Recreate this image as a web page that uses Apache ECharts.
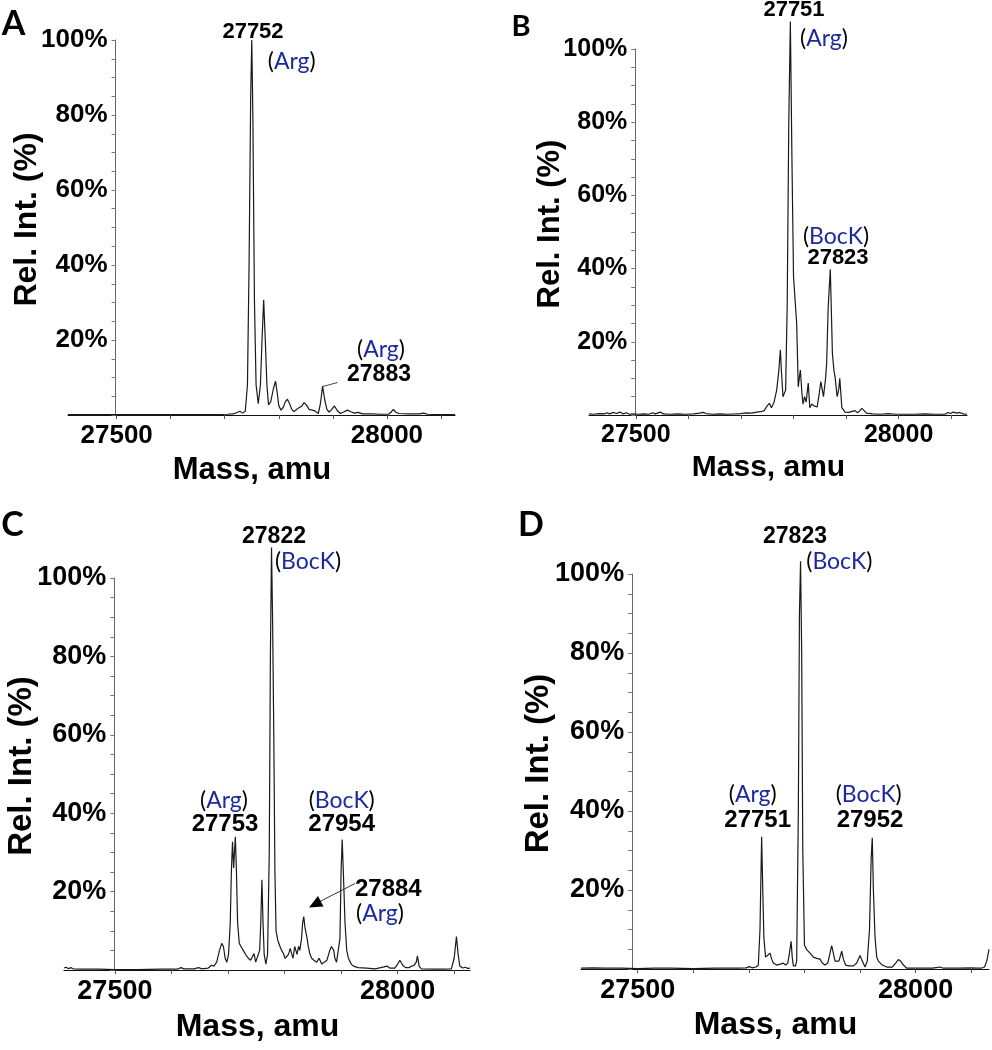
<!DOCTYPE html>
<html><head><meta charset="utf-8">
<script src="https://cdn.jsdelivr.net/npm/echarts@6/dist/echarts.min.js"></script>
<style>html,body{margin:0;padding:0;background:#fff}#c{width:992px;height:1050px}</style>
</head><body><div id="c"></div>
<script>
// ---------- DATA (mass in amu, relative intensity in %) ----------
const massA = [27410,27440,27480,27520,27560,27600,27640,27680,27705,27715,27722,27728,27733,27738,27742,27745,27748,27750,27752,27755,27758,27762,27766,27769,27772,27775,27778,27781,27785,27790,27794,27797,27800,27804,27808,27812,27816,27820,27824,27828,27834,27838,27842,27847,27852,27856,27862,27867,27873,27877,27881,27885,27889,27893,27898,27903,27908,27914,27920,27927,27934,27940,27947,27955,27970,27990,28003,28008,28012,28016,28022,28040,28060,28068,28075,28100,28126];
const intA  = [0.1,0.1,0.1,0.1,0.1,0.1,0.1,0.1,0.2,0.3,0.6,1.0,0.5,1.0,8,40,85,100,80,30,8,3.0,8,20,30.7,20,8,2.7,3.5,7,9,6,2.5,1.3,2,3.5,4.2,3,1.5,0.9,1.6,2.0,2.3,3.3,2.5,1.5,1.3,1.1,0.4,3,7.7,4,1.5,0.8,1.5,2.4,1.2,0.4,0.8,1.3,0.8,0.5,0.7,0.3,0.3,0.2,0.2,0.8,1.5,0.8,0.4,0.3,0.3,0.5,0.2,0.1,0.1];

const massB = [27411,27420,27430,27440,27445,27450,27458,27463,27470,27476,27482,27488,27495,27505,27515,27525,27532,27537,27547,27552,27565,27580,27595,27610,27622,27628,27634,27645,27660,27675,27690,27700,27710,27720,27730,27738,27744,27750,27754,27758,27763,27768,27772,27775,27777,27780,27785,27788,27791,27794,27797,27800,27803,27806,27809,27813,27816,27818,27821,27824,27828,27831,27835,27839,27842,27845,27849,27852,27857,27861,27863,27866,27870,27874,27877,27879,27883,27886,27888,27892,27898,27905,27912,27917,27922,27930,27939,27950,27965,27980,27995,28010,28030,28050,28070,28088,28094,28099,28104,28110,28116,28123,28130];
const intB  = [0.3,0.2,0.4,0.3,0.6,0.3,0.7,0.4,0.8,0.3,0.6,0.2,0.3,0.2,0.3,0.2,0.6,0.3,0.8,0.3,0.2,0.3,0.2,0.3,0.5,0.7,0.4,0.2,0.3,0.2,0.3,0.4,0.6,0.5,0.8,0.9,1.2,2.5,3.2,2.0,3.5,6.8,12,17.8,12,5,6.8,30,80,107.5,70,38,31.4,25,7.7,12.3,6,3,5,3.5,8.7,2,3,2.5,3,2.2,6,9.1,5,10,14,29.6,39.8,16.8,12,10.5,5,7,10,2,0.8,0.7,1.0,1.2,0.6,1.8,0.5,0.3,0.2,0.4,0.2,0.2,0.2,0.3,0.2,0.2,0.7,0.4,0.8,0.5,0.7,0.3,0.2];

const massC = [27410,27414,27418,27422,27426,27440,27470,27500,27540,27580,27610,27617,27622,27640,27648,27654,27665,27671,27675,27680,27685,27689,27692,27695,27698,27701,27704,27706,27708,27710,27713,27715,27717,27720,27723,27727,27731,27736,27740,27742,27746,27749,27752,27756,27758,27760,27762,27764,27767,27770,27773,27775,27777,27779,27781,27783,27785,27788,27792,27795,27798,27801,27804,27807,27810,27813,27815,27818,27820,27822,27825,27827,27830,27832,27834,27836,27838,27840,27842,27845,27848,27852,27857,27861,27866,27870,27875,27878,27880,27883,27885,27887,27889,27892,27895,27898,27900,27902,27904,27907,27910,27913,27918,27922,27930,27945,27960,27970,27976,27981,27986,27995,28000,28004,28009,28014,28020,28025,28029,28033,28035,28038,28042,28060,28080,28095,28100,28104,28107,28110,28115,28120,28124,28128];
const intC  = [0.5,0.7,0.3,0.6,0.3,0.2,0.2,0.1,0.1,0.2,0.2,0.6,0.3,0.3,0.6,0.3,0.5,1.2,1.0,2,5,6.8,6,3,2,4,12,25,32.7,26,34,25,12,6.8,6,5,4,3,2.5,2,4.2,2,1.5,5,12,23,12,4,1.5,4,30,80,107.8,88,60,25,10,7.6,6,5,4.2,3,2.5,4,5.5,4,3,6,5,4,6,5,8,12,13.6,11,11,8,6,4,3,2.5,2,3,1.5,2,2.5,4,5,6,6.4,5,3,2,1.5,8,25,33.3,25,12,5,3,1.5,1,0.6,0.5,0.3,0.6,0.8,1,0.5,0.5,1.5,2.5,1.2,0.6,0.6,1.0,1.2,2,3.6,1,0.3,0.2,0.2,0.3,3,8.5,4,1.0,0.5,0.7,0.4,0.5];

const massD = [27398,27420,27440,27470,27500,27530,27560,27600,27640,27680,27695,27701,27706,27713,27717,27720,27723,27725,27727,27730,27733,27738,27741,27744,27750,27753,27758,27762,27766,27770,27773,27776,27778,27780,27784,27786,27789,27791,27793,27795,27797,27800,27804,27810,27816,27822,27828,27832,27837,27842,27846,27849,27852,27855,27858,27862,27867,27870,27874,27880,27888,27894,27900,27904,27909,27913,27917,27920,27922,27924,27927,27930,27933,27940,27948,27958,27964,27969,27973,27978,27984,28000,28030,28040,28044,28050,28080,28100,28110,28118,28124,28128,28132];
const intD  = [0.2,0.3,0.2,0.2,0.1,0.2,0.2,0.1,0.2,0.2,0.3,0.6,0.3,0.5,1.0,10,33.5,20,8,3,2.5,4,2.5,1.5,1.0,1.0,1.3,1.5,1.0,1.5,4,7,3,0.8,0.8,2,40,90,103.2,80,30,6,4.9,4,3,2.7,2.5,1.5,1,1.5,4,5.9,4,2,1.5,2,4.5,2.5,1,0.8,0.8,1.5,3.4,2,0.5,2,10,28,33.2,20,8,3,2,1,0.5,0.5,1.5,2.4,2,1,0.2,0.2,0.2,0.4,0.5,0.2,0.2,0.3,0.2,0.2,0.5,2,5];

// tick values
const xLabelValues = [27500, 28000];
const xTickValues  = [27500, 27600, 27700, 27800, 27900, 28000, 28100];
const yLabelValues = [20, 40, 60, 80, 100];
const yTickValues  = [0, 5, 10, 15, 20, 25, 30, 35, 40, 45, 50, 55, 60, 65, 70, 75, 80, 85, 90, 95, 100];

// ---------- LAYOUT ----------
const BOLD = '"Liberation Sans", Arial, sans-serif';
const SOFT = 'Lato, "Open Sans", sans-serif';
const BLUE = '#1d2a9c';

const panels = [
  {mass: massA, inten: intA, grid:{left:68, top:40, width:387, height:375}, xMin:27410, xMax:28126, yAt:27498,
   tickFs:26, nameFs:31, yNameFs:32, yNameGap:72, xNameGap:40},
  {mass: massB, inten: intB, grid:{left:589, top:49, width:378, height:366}, xMin:27411, xMax:28130, yAt:27499,
   tickFs:25, nameFs:30, yNameFs:31, yNameGap:69, xNameGap:38},
  {mass: massC, inten: intC, grid:{left:64, top:578, width:406, height:392}, xMin:27410, xMax:28128, yAt:27499,
   tickFs:27, nameFs:32, yNameFs:33, yNameGap:76, xNameGap:41},
  {mass: massD, inten: intD, grid:{left:581, top:574, width:408, height:395}, xMin:27398, xMax:28132, yAt:27490,
   tickFs:27, nameFs:32, yNameFs:33, yNameGap:77, xNameGap:40}
];

const grids = [], xAxes = [], yAxes = [], series = [];
panels.forEach((p, i) => {
  grids.push(Object.assign({outerBoundsMode:'none', containLabel:false}, p.grid));
  xAxes.push({
    gridIndex:i, type:'value', min:p.xMin, max:p.xMax,
    axisLine:{show:true, onZero:false, lineStyle:{color:'#111', width:1.2}},
    axisTick:{show:true, length:4, customValues:xTickValues, lineStyle:{color:'#555'}},
    axisLabel:{customValues:xLabelValues, formatter: v => String(v), fontFamily:BOLD, fontWeight:'bold', fontSize:p.tickFs, color:'#000', margin:8},
    splitLine:{show:false},
    name:'Mass, amu', nameLocation:'middle', nameGap:p.xNameGap, nameMoveOverlap:false,
    nameTextStyle:{fontFamily:BOLD, fontWeight:'bold', fontSize:p.nameFs, color:'#000', padding:[0,19,0,0]}
  });
  const off = -((p.yAt - p.xMin) / (p.xMax - p.xMin)) * p.grid.width;
  yAxes.push({
    gridIndex:i, type:'value', min:0, max:100, position:'left', offset:off,
    axisLine:{show:true, onZero:false, lineStyle:{color:'#666', width:1}},
    axisTick:{show:true, length:4, customValues:yTickValues, lineStyle:{color:'#777'}},
    axisLabel:{customValues:yLabelValues, formatter: v => v + '%', fontFamily:BOLD, fontWeight:'bold', fontSize:p.tickFs, color:'#000', margin:8, padding:[12,0,0,0]},
    splitLine:{show:false},
    name:'Rel. Int. (%)', nameLocation:'middle', nameGap:p.yNameGap, nameMoveOverlap:false,
    nameTextStyle:{fontFamily:BOLD, fontWeight:'bold', fontSize:p.yNameFs, color:'#000', padding:[0,0,0,16]}
  });
  series.push({
    type:'line', xAxisIndex:i, yAxisIndex:i, symbol:'none', clip:false, animation:false,
    lineStyle:{color:'#1a1a1a', width:1.2},
    data: p.mass.map((m, k) => [m, p.inten[k]])
  });
});

// ---------- ANNOTATIONS ----------
function num(txt, x, y, fs){
  return {type:'text', x:x, y:y, z:100, style:{text:txt, fontFamily:BOLD, fontWeight:'bold', fontSize:fs, fill:'#000', textAlign:'center', textVerticalAlign:'middle'}};
}
function tag(txt, x, y){
  return {type:'text', x:x, y:y, z:100, style:{text:'{p|(}{b|' + txt + '}{p|)}', textAlign:'center', textVerticalAlign:'middle',
    rich:{p:{fontFamily:SOFT, fontSize:23, fill:'#000', color:'#000'}, b:{fontFamily:SOFT, fontSize:23, fill:BLUE, color:BLUE}}}};
}
function letter(txt, x, y, fs){
  return {type:'text', x:x, y:y, z:100, style:{text:txt, fontFamily:'Lato, "Liberation Sans", sans-serif', fontWeight:'bold', fontSize:fs, fill:'#000', textAlign:'center', textVerticalAlign:'middle'}};
}
const graphic = [
  letter('A', 13.5, 24.5, 34), letter('B', 521, 27, 29), letter('C', 12.5, 525.5, 34), letter('D', 531, 525.5, 34),
  // A
  num('27752', 253, 31.7, 22), tag('Arg', 291.7, 61.7), tag('Arg', 381, 350), num('27883', 379, 375, 23),
  {type:'line', z:100, shape:{x1:322.7, y1:386.5, x2:337.5, y2:382.5}, style:{stroke:'#444', lineWidth:1}},
  // B
  num('27751', 794, 10, 22), tag('Arg', 824, 39), tag('BocK', 836, 237), num('27823', 838, 258, 22),
  // C
  num('27822', 274, 537, 23), tag('BocK', 308, 561.7), tag('Arg', 224, 801), num('27753', 225, 824.3, 24),
  tag('BocK', 341.7, 801), num('27954', 341.7, 824.3, 24), num('27884', 388.3, 889.3, 24), tag('Arg', 380, 913.3),
  {type:'line', z:100, shape:{x1:355, y1:883.5, x2:318, y2:902.5}, style:{stroke:'#333', lineWidth:1}},
  {type:'polygon', z:100, shape:{points:[[309,907.5],[323.5,906.5],[318,896]]}, style:{fill:'#000'}},
  // D
  num('27823', 795, 537, 23), tag('BocK', 839.3, 561.7), tag('Arg', 752.7, 795), num('27751', 757.7, 820, 24),
  tag('BocK', 868.7, 795), num('27952', 870, 820, 24)
];

const chart = echarts.init(document.getElementById('c'), null, {renderer:'canvas'});
chart.setOption({
  backgroundColor:'#fff', animation:false,
  grid:grids, xAxis:xAxes, yAxis:yAxes, series:series, graphic:graphic
});
</script>
</body></html>
